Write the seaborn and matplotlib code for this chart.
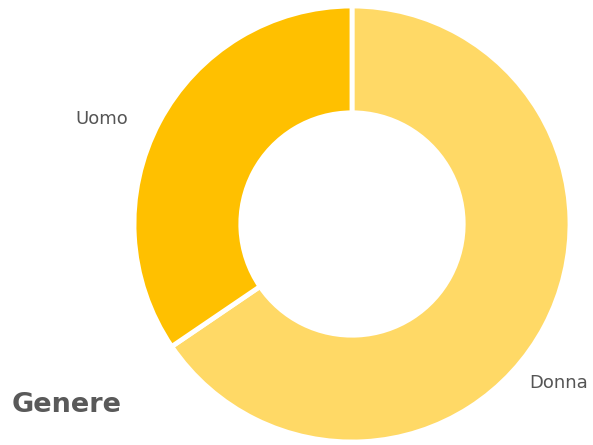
import matplotlib
matplotlib.use("Agg")
import matplotlib.pyplot as plt
import seaborn as sns

sns.set_theme(style="white")
plt.rcParams["font.family"] = ["DejaVu Sans"]

categories = ["Donna", "Uomo"]
values = [65.5, 34.5]
colors = ["#FFD966", "#FFC000"]
title = "Genere"

W, H = 593, 445
fig = plt.figure(figsize=(W / 100, H / 100), dpi=100)
fig.patch.set_facecolor("white")

# donut axes: centre (352, 224) px, radius 218 px
cx, cy, r = 352, 224, 218
ax = fig.add_axes([(cx - r) / W, (H - cy - r) / H, 2 * r / W, 2 * r / H])
ax.pie(values, colors=colors, startangle=90, counterclock=False,
       radius=1.0,
       wedgeprops=dict(width=0.49, edgecolor="white", linewidth=3.5))
ax.set_xlim(-1, 1)
ax.set_ylim(-1, 1)
ax.set_aspect("equal")
ax.axis("off")

# category labels beside their slices
label_pos = {"Uomo": (102, 119), "Donna": (559, 383)}
for name in categories:
    px, py = label_pos[name]
    fig.text(px / W, 1 - py / H, name, ha="center", va="center",
             fontsize=13, color="#555555")

fig.text(12 / W, 1 - 405 / H, title, ha="left", va="center",
         fontsize=19.5, fontweight="bold", color="#595959")

fig.savefig("out.png", dpi=100, facecolor="white")
